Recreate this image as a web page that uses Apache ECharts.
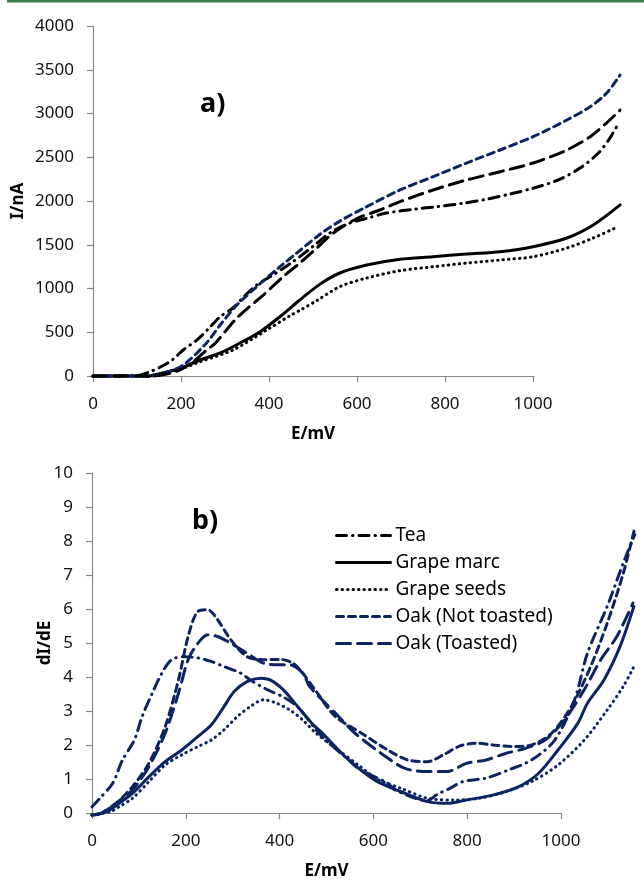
<!DOCTYPE html>
<html>
<head>
<meta charset="utf-8">
<script src="https://cdn.jsdelivr.net/npm/echarts@6/dist/echarts.min.js"></script>
<style>html,body{margin:0;padding:0;background:#fff;}#c{width:644px;height:881px;}</style>
</head>
<body>
<div id="c"></div>
<script>
// ---- Data: panel a) current I (nA) vs E (mV)
const seriesNames = ['Tea', 'Grape marc', 'Grape seeds', 'Oak (Not toasted)', 'Oak (Toasted)'];
const xTicksA = [0, 200, 400, 600, 800, 1000];
const yTicksA = [0, 500, 1000, 1500, 2000, 2500, 3000, 3500, 4000];
const yTicksB = [0, 1, 2, 3, 4, 5, 6, 7, 8, 9, 10];

const teaA = [[0,0],[100,5],[130,50],[160,120],[180,183],[205,297],[236,411],[262,537],[289,678],[318,777],[345,918],[372,1040],[409,1154],[450,1290],[500,1480],[540,1640],[580,1740],[622,1802],[667,1862],[732,1908],[781,1935],[841,1974],[895,2021],[948,2080],[1000,2146],[1057,2240],[1107,2377],[1148,2545],[1175,2720],[1190,2850]];
const marcA = [[0,0],[130,0],[137,11],[170,50],[198,88],[243,183],[289,263],[334,377],[380,507],[425,678],[470,869],[516,1050],[561,1177],[622,1268],[698,1334],[773,1363],[849,1394],[925,1421],[1000,1478],[1077,1577],[1137,1726],[1198,1955]];
const seedsA = [[0,0],[140,0],[170,40],[200,80],[243,163],[318,297],[395,526],[448,690],[470,750],[508,860],[561,1021],[622,1120],[698,1204],[773,1249],[849,1291],[925,1326],[1000,1363],[1077,1463],[1137,1577],[1186,1690]];
const oakNtA = [[0,0],[120,0],[160,30],[205,125],[258,377],[289,583],[327,811],[372,1021],[425,1249],[463,1405],[516,1620],[561,1770],[622,1935],[698,2126],[773,2278],[849,2434],[925,2583],[1000,2735],[1077,2926],[1130,3078],[1167,3231],[1198,3440]];
const oakTA = [[0,0],[130,0],[170,25],[200,75],[230,170],[258,297],[277,370],[300,506],[327,663],[355,790],[383,906],[432,1135],[470,1290],[508,1460],[546,1634],[600,1800],[652,1897],[698,1992],[773,2126],[849,2240],[925,2335],[1000,2434],[1077,2583],[1130,2735],[1167,2891],[1198,3040]];

// ---- Data: panel b) dI/dE vs E (mV)
const teaB = [[0,0.24],[17,0.49],[45,0.93],[66,1.6],[92,2.19],[109,2.88],[131,3.56],[152,4.15],[173,4.54],[202,4.63],[231,4.59],[259,4.49],[287,4.34],[323,4.15],[344,3.95],[376,3.7],[416,3.45],[444,3.2],[465,2.88],[487,2.49],[508,2.19],[558,1.61],[580,1.35],[643,0.93],[657,0.75],[700,0.5],[729,0.42],[750,0.6],[778,0.78],[807,0.98],[857,1.08],[906,1.32],[956,1.61],[1006,2.19],[1049,3.37],[1077,4.73],[1120,6.1],[1155,7.37],[1180,8.2]];
const marcB = [[0,0],[32,0.1],[60,0.35],[88,0.63],[124,1.12],[159,1.56],[195,1.9],[230,2.29],[259,2.63],[287,3.17],[309,3.61],[337,3.9],[366,4.0],[387,3.95],[416,3.66],[444,3.22],[480,2.65],[501,2.39],[558,1.61],[615,1.02],[672,0.68],[729,0.39],[772,0.34],[814,0.44],[871,0.58],[928,0.83],[971,1.22],[1013,1.9],[1056,2.68],[1077,3.27],[1113,3.95],[1148,4.93],[1178,6.1]];
const seedsB = [[0,0],[40,0.1],[60,0.25],[88,0.49],[124,0.98],[159,1.46],[195,1.76],[230,2.0],[259,2.19],[287,2.49],[316,2.88],[344,3.17],[373,3.37],[401,3.27],[430,3.07],[458,2.78],[487,2.39],[530,1.95],[580,1.45],[620,1.05],[672,0.78],[729,0.49],[786,0.44],[842,0.49],[899,0.68],[956,0.98],[1013,1.46],[1070,2.19],[1120,3.07],[1155,3.76],[1178,4.34]];
const oakNtB = [[0,0],[20,0.05],[53,0.35],[88,0.83],[124,1.52],[159,2.58],[188,3.95],[209,5.22],[230,5.95],[252,6.0],[273,5.71],[302,5.12],[337,4.63],[373,4.54],[409,4.55],[437,4.44],[458,4.15],[487,3.62],[529,2.88],[586,2.39],[643,1.9],[686,1.61],[729,1.56],[764,1.76],[800,2.02],[835,2.1],[871,2.05],[914,2.0],[956,2.05],[999,2.39],[1042,3.17],[1084,4.34],[1120,5.61],[1155,7.07],[1180,8.4]];
const oakTB = [[0,0],[20,0.05],[53,0.35],[88,0.73],[124,1.42],[159,2.39],[188,3.56],[209,4.54],[230,5.02],[252,5.27],[273,5.22],[302,5.02],[337,4.73],[373,4.44],[409,4.39],[430,4.39],[458,4.15],[473,3.76],[529,2.98],[572,2.39],[629,1.8],[679,1.37],[729,1.27],[772,1.27],[814,1.51],[857,1.61],[899,1.8],[942,1.95],[985,2.19],[1027,2.78],[1070,3.66],[1106,4.54],[1141,5.22],[1176,6.2]];

// ---- Styles
const BLACK = '#000000';
const NAVY = '#0b2462';
const FONT = 'Noto Sans';
const dashStyles = {
  'Tea': [10, 6, 0.5, 6],
  'Grape marc': 'solid',
  'Grape seeds': [0.5, 5],
  'Oak (Not toasted)': [7, 5],
  'Oak (Toasted)': [14, 7]
};
const colorsA = {'Tea': BLACK, 'Grape marc': BLACK, 'Grape seeds': BLACK, 'Oak (Not toasted)': NAVY, 'Oak (Toasted)': BLACK};
const legendColors = {'Tea': BLACK, 'Grape marc': BLACK, 'Grape seeds': BLACK, 'Oak (Not toasted)': NAVY, 'Oak (Toasted)': NAVY};
const dataA = {'Tea': teaA, 'Grape marc': marcA, 'Grape seeds': seedsA, 'Oak (Not toasted)': oakNtA, 'Oak (Toasted)': oakTA};
const dataB = {'Tea': teaB, 'Grape marc': marcB, 'Grape seeds': seedsB, 'Oak (Not toasted)': oakNtB, 'Oak (Toasted)': oakTB};

// axis ranges: visible axes end at 1000, data axes (hidden) extend to 1200 so curves overrun as in the original
const X_VIS_MAX = 1000, X_DATA_MAX = 1200;

function mkSeries(name, data, color, xIdx, yIdx) {
  return {
    name: name, type: 'line', xAxisIndex: xIdx, yAxisIndex: yIdx,
    data: data, showSymbol: false, symbol: 'none', smooth: 0.3, clip: false,
    lineStyle: {color: color, width: 3, type: dashStyles[name], cap: 'round', join: 'round'},
    itemStyle: {color: color},
    emphasis: {disabled: true}, animation: false, z: 3
  };
}
const series = [];
seriesNames.forEach(n => series.push(mkSeries(n, dataA[n], colorsA[n], 2, 2)));
seriesNames.forEach(n => series.push(mkSeries(n, dataB[n], NAVY, 3, 3)));

const axisLineStyle = {show: true, lineStyle: {color: '#878787', width: 1.2}};
const tickStyle = {show: true, length: 6, lineStyle: {color: '#878787', width: 1.2}};
const labelStyle = {color: '#111', fontSize: 17, fontFamily: FONT, formatter: v => String(v)};
const nameStyle = {color: '#000', fontSize: 17, fontWeight: 'bold', fontFamily: FONT};

const GA = {left: 93, top: 26, width: 440, height: 350};
const GB = {left: 92, top: 473, width: 469, height: 342};

function hiddenAxis(grid, min, max) {
  return {type: 'value', gridIndex: grid, min: min, max: max, show: false,
          axisLine: {show: false}, axisTick: {show: false}, axisLabel: {show: false}, splitLine: {show: false}};
}

const option = {
  animation: false,
  backgroundColor: '#fff',
  graphic: [
    {type: 'rect', shape: {x: 7, y: 0, width: 637, height: 2.5}, style: {fill: '#3a7a4a'}, silent: true},
    {type: 'text', left: 200, top: 91, style: {text: 'a)', font: 'bold 27px "Noto Sans"', fill: '#000'}},
    {type: 'text', left: 192, top: 508, style: {text: 'b)', font: 'bold 27px "Noto Sans"', fill: '#000'}}
  ],
  legend: {
    orient: 'vertical', left: 330, top: 520,
    itemWidth: 54, itemHeight: 14, itemGap: 6,
    selectedMode: false,
    textStyle: {color: '#000', fontSize: 19, fontFamily: FONT, lineHeight: 21},
    data: seriesNames.map(n => ({
      name: n,
      lineStyle: {color: legendColors[n], width: 3, type: dashStyles[n], cap: 'round', opacity: 1},
      itemStyle: {color: legendColors[n], opacity: 0, borderWidth: 0}
    }))
  },
  grid: [
    Object.assign({}, GA),
    Object.assign({}, GB),
    {left: GA.left, top: GA.top, width: GA.width * X_DATA_MAX / X_VIS_MAX, height: GA.height},
    {left: GB.left, top: GB.top, width: GB.width * X_DATA_MAX / X_VIS_MAX, height: GB.height}
  ],
  xAxis: [
    {type: 'value', gridIndex: 0, min: xTicksA[0], max: X_VIS_MAX, interval: 200,
     name: 'E/mV', nameLocation: 'middle', nameGap: 50, nameMoveOverlap: false, nameTextStyle: nameStyle,
     axisLine: axisLineStyle, axisTick: tickStyle, splitLine: {show: false},
     axisLabel: Object.assign({margin: 20}, labelStyle)},
    {type: 'value', gridIndex: 1, min: 0, max: X_VIS_MAX, interval: 200,
     name: 'E/mV', nameLocation: 'middle', nameGap: 50, nameMoveOverlap: false, nameTextStyle: nameStyle,
     axisLine: axisLineStyle, axisTick: tickStyle, splitLine: {show: false},
     axisLabel: Object.assign({margin: 20}, labelStyle)},
    hiddenAxis(2, 0, X_DATA_MAX),
    hiddenAxis(3, 0, X_DATA_MAX)
  ],
  yAxis: [
    {type: 'value', gridIndex: 0, min: yTicksA[0], max: yTicksA[yTicksA.length - 1], interval: 500,
     name: 'I/nA', nameLocation: 'middle', nameGap: 66, nameMoveOverlap: false, nameTextStyle: nameStyle,
     axisLine: axisLineStyle, axisTick: tickStyle, splitLine: {show: false},
     axisLabel: Object.assign({margin: 19}, labelStyle)},
    {type: 'value', gridIndex: 1, min: yTicksB[0], max: yTicksB[yTicksB.length - 1], interval: 1,
     name: 'dI/dE', nameLocation: 'middle', nameGap: 38, nameMoveOverlap: false, nameTextStyle: nameStyle,
     axisLine: axisLineStyle, axisTick: tickStyle, splitLine: {show: false},
     axisLabel: Object.assign({margin: 19}, labelStyle)},
    hiddenAxis(2, yTicksA[0], yTicksA[yTicksA.length - 1]),
    hiddenAxis(3, yTicksB[0], yTicksB[yTicksB.length - 1])
  ],
  series: series
};
const chart = echarts.init(document.getElementById('c'), null, {renderer: 'canvas'});
chart.setOption(option);
</script>
</body>
</html>
